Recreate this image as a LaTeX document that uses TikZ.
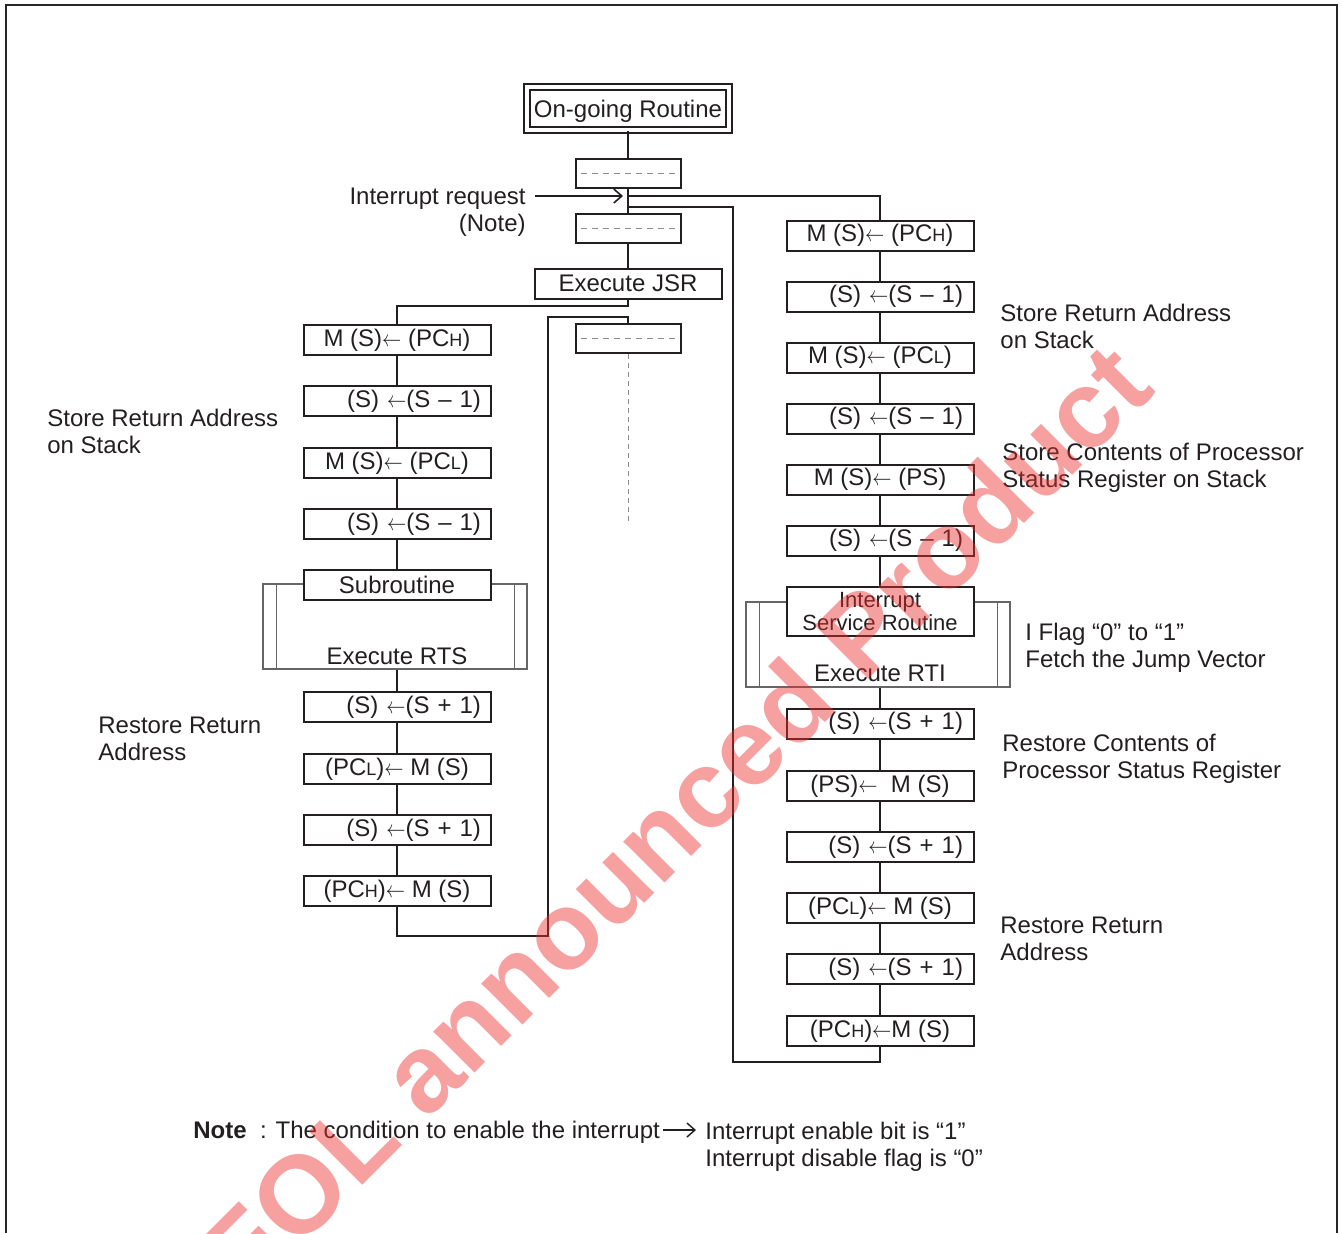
\documentclass[tikz,border=0pt]{standalone}
\usepackage{fontspec}
\usepackage{graphicx}
\setmainfont{Liberation Sans}
\usetikzlibrary{arrows.meta}
\newcommand\sbs[1]{{\fontsize{9}{9}\selectfont #1}}
\newcommand\la{\scalebox{0.8}[0.95]{\ensuremath{\leftarrow}}}
\definecolor{ink}{RGB}{35,31,32}
\definecolor{wm}{RGB}{235,45,45}
\begin{document}
\begin{tikzpicture}[x=0.5pt,y=-0.5pt,
  every node/.style={font=\fontsize{12}{13.5}\selectfont, text=ink},
  conn/.style={line width=1.2pt, draw=ink},
  opbox/.style={draw=ink, line width=1pt, fill=white, minimum width=93.5pt, minimum height=15pt, inner sep=0pt},
  opboxr/.style={opbox, text width=84pt, align=right, inner xsep=4.75pt},
  opboxrr/.style={opbox, text width=83pt, align=right, inner xsep=5.25pt},
  dbox/.style={draw=ink, line width=1pt, fill=white, minimum width=52.5pt, minimum height=14.5pt, inner sep=0pt},
  dashln/.style={draw=black!45, line width=0.5pt, dash pattern=on 3pt off 2.5pt},
  brk/.style={draw=black!60, line width=0.7pt},
  lbl/.style={inner sep=0pt, align=left, anchor=north west},
  arr/.style={line width=0.8pt, draw=ink, -{Straight Barb[length=4pt,width=7pt]}}]
\useasboundingbox (0,0) rectangle (1342,1233);
% frame
\draw[line width=1.3pt, draw=black!85] (6,1233) -- (6,5) -- (1337,5) -- (1337,1233);

% brackets
\node[brk, minimum width=132pt, minimum height=42.5pt, inner sep=0pt] (rtsb) at (395,626.5) {};
\draw[brk] ([xshift=7pt]rtsb.north west) -- ([xshift=7pt]rtsb.south west);
\draw[brk] ([xshift=-6.5pt]rtsb.north east) -- ([xshift=-6.5pt]rtsb.south east);
\node[brk, minimum width=132pt, minimum height=42.5pt, inner sep=0pt] (rtib) at (878,644.5) {};
\draw[brk] ([xshift=7pt]rtib.north west) -- ([xshift=7pt]rtib.south west);
\draw[brk] ([xshift=-6.5pt]rtib.north east) -- ([xshift=-6.5pt]rtib.south east);
\node (rts) at (397,656) {Execute RTS};
\node (rti) at (880,673) {Execute RTI};

% top
\node[draw=ink, line width=0.9pt, double, double distance=2pt, minimum width=101pt, minimum height=21.5pt, inner sep=0pt, text height=8.6pt, text depth=0pt] (ongo) at (628,108.5) {On-going Routine};
\node[dbox] (d1) at (628,173.5) {};
\node[dbox] (d2) at (628,228.5) {};
\node[dbox] (d3) at (628,338.5) {};
\foreach \d in {d1,d2,d3}{\draw[dashln] ([xshift=3pt]\d.west) -- ([xshift=-3pt]\d.east);}
\node[opbox] (jsr) at (628,283.5) {Execute JSR};

% left column
\node[opbox]  (L1) at (397,340) {M (S)\la\ (PC\sbs{H})};
\node[opboxr] (L2) at (397,401) {(S) \la(S – 1)};
\node[opbox]  (L3) at (397,463) {M (S)\la\ (PC\sbs{L})};
\node[opboxr] (L4) at (397,524) {(S) \la(S – 1)};
\node[opbox]  (sub) at (397,584.5) {Subroutine};
\node[opboxr] (L6) at (397,707) {(S) \la(S + 1)};
\node[opbox]  (L7) at (397,769) {(PC\sbs{L})\la\ M (S)};
\node[opboxr] (L8) at (397,830) {(S) \la(S + 1)};
\node[opbox]  (L9) at (397,891) {(PC\sbs{H})\la\ M (S)};

% right column
\node[opbox]   (R1) at (880,235.5) {M (S)\la\ (PC\sbs{H})};
\node[opboxrr] (R2) at (880,296.5) {(S) \la(S – 1)};
\node[opbox]   (R3) at (880,357.5) {M (S)\la\ (PC\sbs{L})};
\node[opboxrr] (R4) at (880,418.5) {(S) \la(S – 1)};
\node[opbox]   (R5) at (880,479.5) {M (S)\la\ (PS)};
\node[opboxrr] (R6) at (880,540.5) {(S) \la(S – 1)};
\node[opbox, minimum height=24.5pt, align=center, font=\fontsize{11}{11.5}\selectfont] (isr) at (880,611.5) {Interrupt\\Service Routine};
\node[opboxrr] (R8) at (880,723.5) {(S) \la(S + 1)};
\node[opbox]   (R9) at (880,786) {(PS)\la\ \ M (S)};
\node[opboxrr] (R10) at (880,847) {(S) \la(S + 1)};
\node[opbox]   (R11) at (880,908) {(PC\sbs{L})\la\ M (S)};
\node[opboxrr] (R12) at (880,969) {(S) \la(S + 1)};
\node[opbox]   (R13) at (880,1031) {(PC\sbs{H})\la M (S)};

% connectors, main
\coordinate (ir) at (628,196);
\coordinate (ib) at (628,207);
\coordinate (jb) at (628,306);
\coordinate (r1) at (548,936);
\coordinate (r2) at (548,317);
\coordinate (dend) at (628,522);
\coordinate (b1) at (733,1062);
\draw[conn] (ongo.south) -- (d1.north);
\draw[conn] (d1.south) -- (d2.north);
\draw[conn] (d2.south) -- (jsr.north);
\draw[conn] (jsr.south) -- (jb) -| (L1.north);
\draw[conn] (L1) -- (L2); \draw[conn] (L2) -- (L3); \draw[conn] (L3) -- (L4); \draw[conn] (L4) -- (sub);
\draw[conn] (L6.north |- rtsb.south) -- (L6.north);
\draw[conn] (L6) -- (L7); \draw[conn] (L7) -- (L8); \draw[conn] (L8) -- (L9);
\draw[conn] (L9.south) |- (r1) -- (r2) -| (d3.north);
\draw[dashln, dash pattern=on 2.5pt off 2pt] (d3.south) -- (dend);
% right branch
\draw[conn] (ir) -| (R1.north);
\draw[conn] (R1) -- (R2); \draw[conn] (R2) -- (R3); \draw[conn] (R3) -- (R4);
\draw[conn] (R4) -- (R5); \draw[conn] (R5) -- (R6); \draw[conn] (R6) -- (isr);
\draw[conn] (R8.north |- rtib.south) -- (R8.north);
\draw[conn] (R8) -- (R9); \draw[conn] (R9) -- (R10); \draw[conn] (R10) -- (R11);
\draw[conn] (R11) -- (R12); \draw[conn] (R12) -- (R13);
\draw[conn] (R13.south) |- (b1) |- (ib);

% interrupt request
\node[inner sep=0pt, align=right, anchor=north east] (irq) at (526,187.5) {Interrupt request\\(Note)};
\coordinate (irs) at (535,196);
\coordinate (ire) at (623,196);
\draw[arr] (irs) -- (ire);

% labels
\node[lbl] (t1) at (47,408.5) {Store Return Address\\on Stack};
\node[lbl] (t2) at (98,716.5) {Restore Return\\Address};
\node[lbl] (t3) at (1000,303.5) {Store Return Address\\on Stack};
\node[lbl] (t4) at (1002,442.5) {Store Contents of Processor\\Status Register on Stack};
\node[lbl] (t5) at (1025,622.5) {I Flag “0” to “1”\\Fetch the Jump Vector};
\node[lbl] (t6) at (1002,733.5) {Restore Contents of\\Processor Status Register};
\node[lbl] (t7) at (1000,916.5) {Restore Return\\Address};

% note
\node[inner sep=0pt, anchor=base west] (nt) at (193,1138) {\textbf{Note}\ \ : The condition to enable the interrupt};
\node[lbl] (nc) at (705,1121.5) {Interrupt enable bit is “1”\\Interrupt disable flag is “0”};
\coordinate (na) at (663,1130);
\coordinate (nb) at (696,1130);
\draw[arr, line width=0.7pt] (na) -- (nb);

% watermark
\node[rotate=45, anchor=base, inner sep=0pt, text=wm, opacity=0.45, font=\fontsize{55}{55}\bfseries\selectfont] (wmk) at (701,847) {EOL announced Product};
\end{tikzpicture}
\end{document}
